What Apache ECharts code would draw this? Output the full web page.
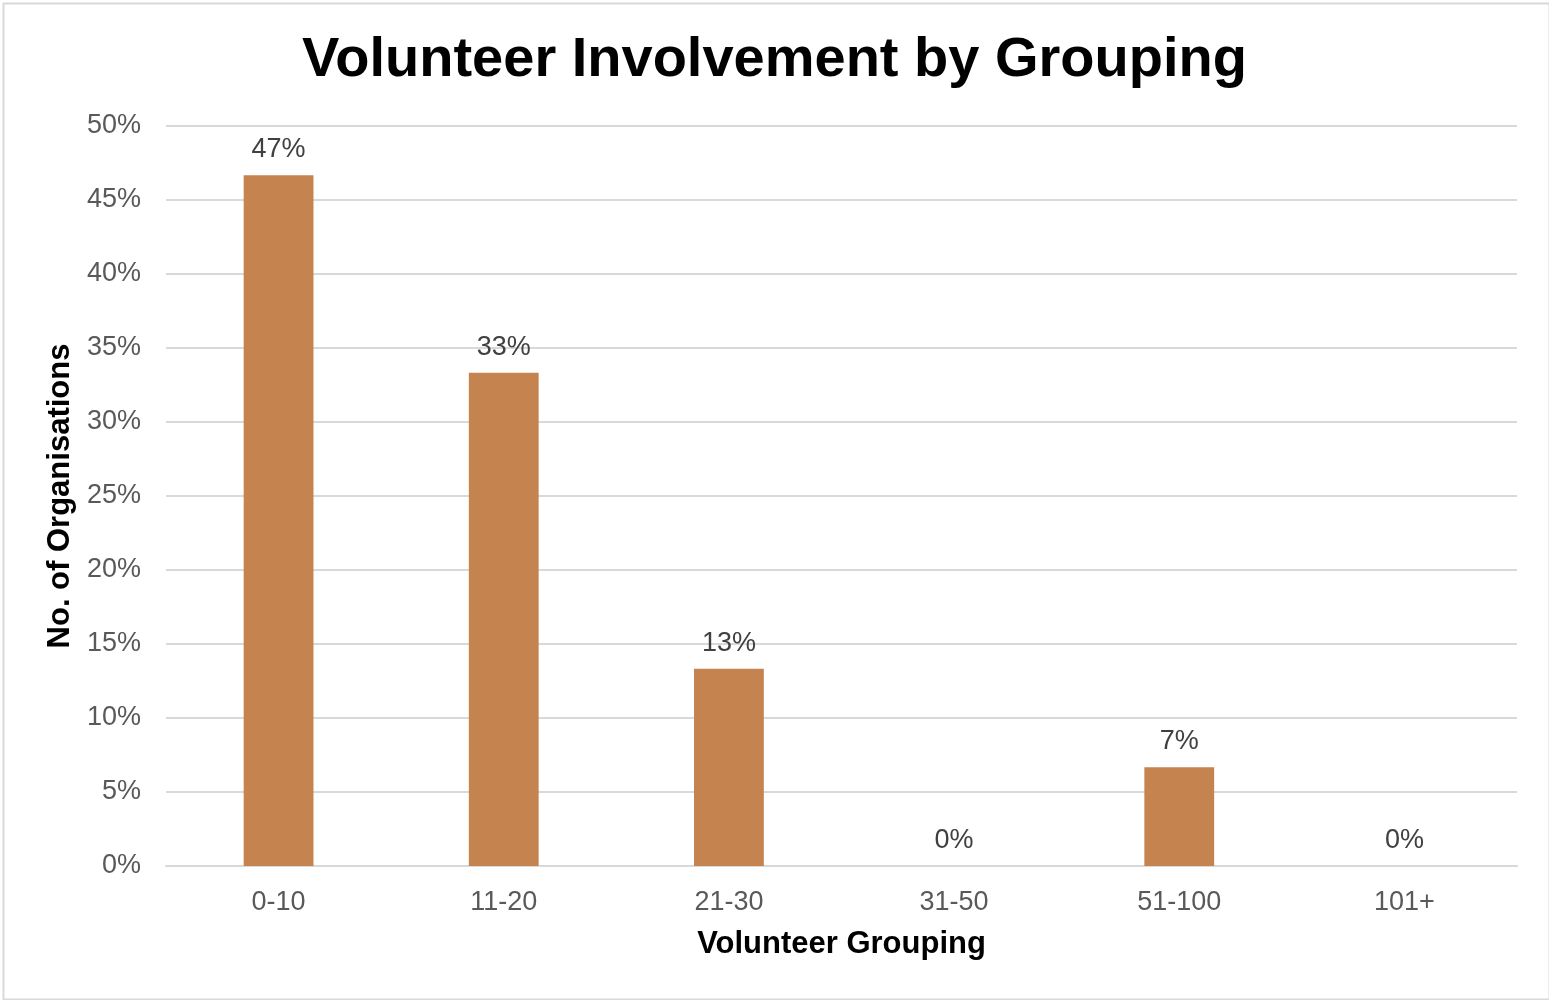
<!DOCTYPE html>
<html>
<head>
<meta charset="utf-8">
<script src="https://cdn.jsdelivr.net/npm/echarts@6/dist/echarts.min.js"></script>
<style>
  html, body { margin: 0; padding: 0; background: #fff; }
  #chart { width: 1549px; height: 1000px; }
</style>
</head>
<body>
<div id="chart"></div>
<script>
// Volunteer groupings and the share of organisations in each (percent)
const groupings = ['0-10', '11-20', '21-30', '31-50', '51-100', '101+'];
const shares = [46.67, 33.33, 13.33, 0, 6.67, 0];
const yTicks = { min: 0, max: 50, step: 5 };

const chart = echarts.init(document.getElementById('chart'));
const fontFamily = '"Liberation Sans", Arial, sans-serif';

chart.setOption({
  backgroundColor: '#ffffff',
  animation: false,
  title: {
    text: 'Volunteer Involvement by Grouping',
    left: 'center',
    top: 28,
    textStyle: { fontFamily, fontSize: 56, fontWeight: 'bold', color: '#000000' }
  },
  graphic: [{
    type: 'rect',
    left: 1, top: 1,
    shape: { width: 1546, height: 996 },
    style: { fill: 'none', stroke: '#d9d9d9', lineWidth: 2 },
    silent: true
  }],
  grid: { left: 166, right: 32, top: 126, bottom: 134 },
  xAxis: {
    type: 'category',
    data: groupings,
    name: 'Volunteer Grouping',
    nameLocation: 'middle',
    nameGap: 78,
    nameTextStyle: { fontFamily, fontSize: 31, fontWeight: 'bold', color: '#000000', verticalAlign: 'middle' },
    axisLine: { show: true, lineStyle: { color: '#d9d9d9', width: 2 } },
    axisTick: { show: false },
    axisLabel: { fontFamily, fontSize: 27, color: '#595959', margin: 23 }
  },
  yAxis: {
    type: 'value',
    min: yTicks.min,
    max: yTicks.max,
    interval: yTicks.step,
    name: 'No. of Organisations',
    nameLocation: 'middle',
    nameRotate: 90,
    nameGap: 106,
    nameTextStyle: { fontFamily, fontSize: 31, fontWeight: 'bold', color: '#000000', verticalAlign: 'middle' },
    axisLine: { show: false },
    axisTick: { show: false },
    axisLabel: { fontFamily, fontSize: 27, color: '#595959', margin: 25, formatter: v => v + '%' },
    splitLine: { lineStyle: { color: '#d9d9d9', width: 2 } }
  },
  series: [{
    type: 'bar',
    data: shares,
    barWidth: '31%',
    itemStyle: { color: '#c5834f' },
    label: {
      show: true,
      position: 'top',
      distance: 12,
      fontFamily,
      fontSize: 27,
      color: '#404040',
      formatter: p => Math.round(p.value) + '%'
    }
  }]
});
</script>
</body>
</html>
